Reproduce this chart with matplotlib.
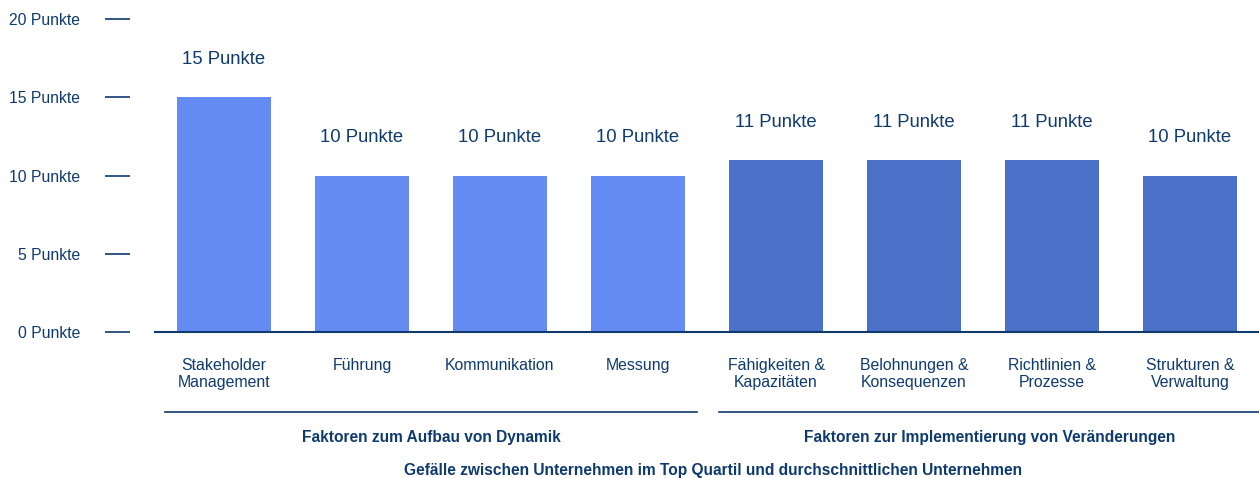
import matplotlib.pyplot as plt
import matplotlib.transforms as mtransforms

plt.rcParams['font.family'] = ['Liberation Sans', 'DejaVu Sans']

categories = ['Stakeholder\nManagement', 'Führung', 'Kommunikation', 'Messung',
              'Fähigkeiten &\nKapazitäten', 'Belohnungen &\nKonsequenzen',
              'Richtlinien &\nProzesse', 'Strukturen &\nVerwaltung']
values = [15, 10, 10, 10, 11, 11, 11, 10]
groups = ['Faktoren zum Aufbau von Dynamik', 'Faktoren zur Implementierung von Veränderungen']
group_of = [0, 0, 0, 0, 1, 1, 1, 1]
yticks = [0, 5, 10, 15, 20]
title = 'Gefälle zwischen Unternehmen im Top Quartil und durchschnittlichen Unternehmen'

light = '#648CF2'
dark = '#4A70C8'
navy = '#0E3A6E'

fig = plt.figure(figsize=(12.59, 4.78), dpi=100)
ax = fig.add_axes([155 / 1259, 146 / 478, 1104 / 1259, 313 / 478])

x = list(range(len(categories)))
colors = [light if g == 0 else dark for g in group_of]
ax.bar(x, values, width=0.675, color=colors, zorder=2)
ax.set_xlim(-0.5, 7.5)
ax.set_ylim(0, 20)

for xi, v in zip(x, values):
    ax.annotate('{} Punkte'.format(v), (xi, v), xytext=(0, 21), textcoords='offset points',
                ha='center', va='bottom', fontsize=13.3, color=navy)

for s in ['top', 'right', 'left']:
    ax.spines[s].set_visible(False)
ax.spines['bottom'].set_color(navy)
ax.spines['bottom'].set_linewidth(1.5)
ax.spines['left'].set_position(('outward', 18))

ax.set_yticks(yticks)
ax.set_yticklabels(['{} Punkte'.format(t) for t in yticks], fontsize=11.3, color=navy)
ax.tick_params(axis='y', length=18, width=1.2, color=navy, pad=18)

ax.set_xticks(x)
ax.set_xticklabels(categories, fontsize=11.4, color=navy, linespacing=1.15)
ax.tick_params(axis='x', length=0, pad=19)

trans = mtransforms.blended_transform_factory(ax.transData, ax.transAxes)
spans = [(-0.43, 3.43), (3.59, 7.5)]
for (x0, x1), name in zip(spans, groups):
    ax.plot([x0, x1], [-0.256, -0.256], color=navy, lw=1.2, transform=trans, clip_on=False)
    ax.text((x0 + x1) / 2, -0.337, name, transform=trans, ha='center', va='center',
            fontsize=11.2, fontweight='bold', color=navy)

fig.text(713 / 1259, 8 / 478, title, ha='center', va='center',
         fontsize=11.2, fontweight='bold', color=navy)

fig.savefig('out.png', dpi=100)
